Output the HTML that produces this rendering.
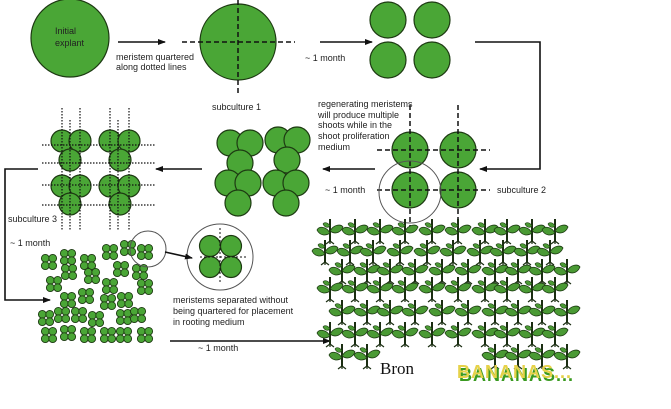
<!DOCTYPE html>
<html><head><meta charset="utf-8"><style>
html,body{margin:0;padding:0;background:#fff;width:671px;height:409px;overflow:hidden}
svg text{font-family:"Liberation Sans",sans-serif;font-size:9px;fill:#222}
</style></head><body>
<svg id="s" width="671" height="409" viewBox="0 0 671 409" xmlns="http://www.w3.org/2000/svg">
<defs>
<marker id="a" markerWidth="8" markerHeight="8" refX="7" refY="4" orient="auto" markerUnits="userSpaceOnUse"><path d="M0,1 L8,4 L0,7 Z" fill="#111"/></marker>
<g id="q"><circle cx="-3.7" cy="-3.7" r="3.9"/><circle cx="3.7" cy="-3.7" r="3.9"/><circle cx="-3.7" cy="3.7" r="3.9"/><circle cx="3.7" cy="3.7" r="3.9"/></g>
<g id="p">
<path d="M0,-13 L0,9" stroke="#1b2e12" stroke-width="2"/>
<path d="M0,1 C-4,-6 -11,-6 -13,-2 C-10,4 -4,4 0,1Z" fill="#4a9a34" stroke="#1b3a10" stroke-width="0.8"/>
<path d="M0,-1 C4,-8 11,-8 13,-5 C10,2 4,2 0,-1Z" fill="#4a9a34" stroke="#1b3a10" stroke-width="0.8"/>
<path d="M0,-6 C-2,-10 -6,-10 -7,-8 C-5,-4 -2,-4 0,-6Z" fill="#4a9a34" stroke="#1b3a10" stroke-width="0.6"/>
<path d="M0,9 L-4,12 M0,9 L4,12 M0,9 L0,12" stroke="#1b2e12" stroke-width="1.2"/>
</g>
</defs>
<g fill="#4aa636" stroke="#1d3a12" stroke-width="1.2">
<circle cx="70" cy="38" r="39"/>
<circle cx="238" cy="42" r="38"/>
<circle cx="388" cy="20" r="18"/><circle cx="432" cy="20" r="18"/>
<circle cx="388" cy="60" r="18"/><circle cx="432" cy="60" r="18"/>
<circle cx="410" cy="150" r="18"/><circle cx="458" cy="150" r="18"/>
<circle cx="410" cy="190" r="18"/><circle cx="458" cy="190" r="18"/>
<circle cx="230" cy="143" r="13"/><circle cx="250" cy="143" r="13"/><circle cx="240" cy="163" r="13"/>
<circle cx="278" cy="140" r="13"/><circle cx="297" cy="140" r="13"/><circle cx="287" cy="160" r="13"/>
<circle cx="228" cy="183" r="13"/><circle cx="248" cy="183" r="13"/><circle cx="238" cy="203" r="13"/>
<circle cx="276" cy="183" r="13"/><circle cx="296" cy="183" r="13"/><circle cx="286" cy="203" r="13"/>
<circle cx="62" cy="141" r="11"/><circle cx="80" cy="141" r="11"/><circle cx="70" cy="160" r="11"/>
<circle cx="110" cy="141" r="11"/><circle cx="129" cy="141" r="11"/><circle cx="120" cy="160" r="11"/>
<circle cx="62" cy="186" r="11"/><circle cx="80" cy="186" r="11"/><circle cx="70" cy="204" r="11"/>
<circle cx="110" cy="186" r="11"/><circle cx="129" cy="186" r="11"/><circle cx="120" cy="204" r="11"/>
<circle cx="210" cy="246" r="10.5"/><circle cx="231" cy="246" r="10.5"/><circle cx="210" cy="267" r="10.5"/><circle cx="231" cy="267" r="10.5"/>
</g>
<g id="quads" fill="#4aa636" stroke="#1d3a12" stroke-width="0.9"></g>
<g fill="none" stroke="#111" stroke-width="1.5" stroke-dasharray="5,3">
<path d="M182,42 H295 M238,0 V95"/>
<path d="M377,150 H490 M377,190 H490 M410,105 V230 M458,105 V230"/>
<path d="M200,257 H248 M220,228 V282" stroke-width="1" stroke-dasharray="2,2"/>
</g>
<g fill="none" stroke="#111" stroke-width="1.2" stroke-dasharray="1.5,1.5">
<path d="M42,145 H155 M42,163 H155 M42,185 H155 M42,205 H155"/>
<path d="M62,108 V230 M70,120 V230 M80,108 V230 M110,108 V230 M118,120 V230 M129,108 V230"/>
</g>
<g fill="none" stroke="#555" stroke-width="1">
<circle cx="410" cy="192" r="31"/>
<circle cx="148" cy="249" r="18"/>
<circle cx="220" cy="257" r="33"/>
</g>
<g fill="none" stroke="#111" stroke-width="1.6">
<path d="M118,42 H165" marker-end="url(#a)"/>
<path d="M320,42 H372" marker-end="url(#a)"/>
<path d="M475,42 H540 V169 H480" marker-end="url(#a)"/>
<path d="M375,169 H323" marker-end="url(#a)"/>
<path d="M202,169 H156" marker-end="url(#a)"/>
<path d="M38,169 H5 V300 H50" marker-end="url(#a)"/>
<path d="M165,252 L192,258" marker-end="url(#a)"/>
<path d="M170,341 H330" marker-end="url(#a)"/>
</g>
<g id="plants"></g>
<text x="55" y="34">Initial</text><text x="55" y="46">explant</text>
<text x="116" y="60">meristem quartered</text><text x="116" y="70">along dotted lines</text>
<text x="212" y="110">subculture 1</text>
<text x="305" y="61">~ 1 month</text>
<text x="318" y="107">regenerating meristems</text>
<text x="318" y="118">will produce multiple</text>
<text x="318" y="128">shoots while in the</text>
<text x="318" y="139">shoot proliferation</text>
<text x="318" y="150">medium</text>
<text x="325" y="193">~ 1 month</text>
<text x="497" y="193">subculture 2</text>
<text x="8" y="222">subculture 3</text>
<text x="10" y="246">~ 1 month</text>
<text x="173" y="303">meristems separated without</text>
<text x="173" y="314">being quartered for placement</text>
<text x="173" y="325">in rooting medium</text>
<text x="198" y="351">~ 1 month</text>
<text x="380" y="374" style="font-family:'Liberation Serif',serif;font-size:17px;fill:#111">Bron</text>
<text x="459" y="381" style="font-family:'Liberation Sans',sans-serif;font-weight:bold;font-size:18px;fill:#3a9a20;letter-spacing:1px">BANANAS...</text>
<text x="457" y="378" style="font-family:'Liberation Sans',sans-serif;font-weight:bold;font-size:18px;fill:#e6d24a;letter-spacing:1px">BANANAS...</text>
</svg>
<script>
var NS="http://www.w3.org/2000/svg";
var qs=[[49,262],[68,257],[88,262],[110,252],[128,248],[145,252],[69,272],[92,276],[121,269],[140,272],[54,284],[110,286],[145,287],[68,300],[86,296],[108,302],[125,300],[46,318],[62,315],[79,315],[96,319],[124,317],[138,315],[49,335],[68,333],[88,335],[108,335],[124,335],[145,335]];
var g=document.getElementById("quads");
qs.forEach(function(c){var u=document.createElementNS(NS,"use");u.setAttribute("href","#q");u.setAttribute("x",c[0]);u.setAttribute("y",c[1]);g.appendChild(u);});
var A=[330,355,380,405,432,458,485,507,532,555],B=[325,350,373,400,427,453,480,503,527,550],C=[342,367,390,415,442,468,495,518,542,567];
var rows=[[232,A],[253,B],[272,C],[290,A],[313,C],[335,A],[357,C]];
var pg=document.getElementById("plants");
rows.forEach(function(r,i){r[1].forEach(function(x,j){if(i==6&&j>=2&&j<=5)return;var u=document.createElementNS(NS,"use");u.setAttribute("href","#p");u.setAttribute("x",x);u.setAttribute("y",r[0]);pg.appendChild(u);});});
</script>
</body></html>
